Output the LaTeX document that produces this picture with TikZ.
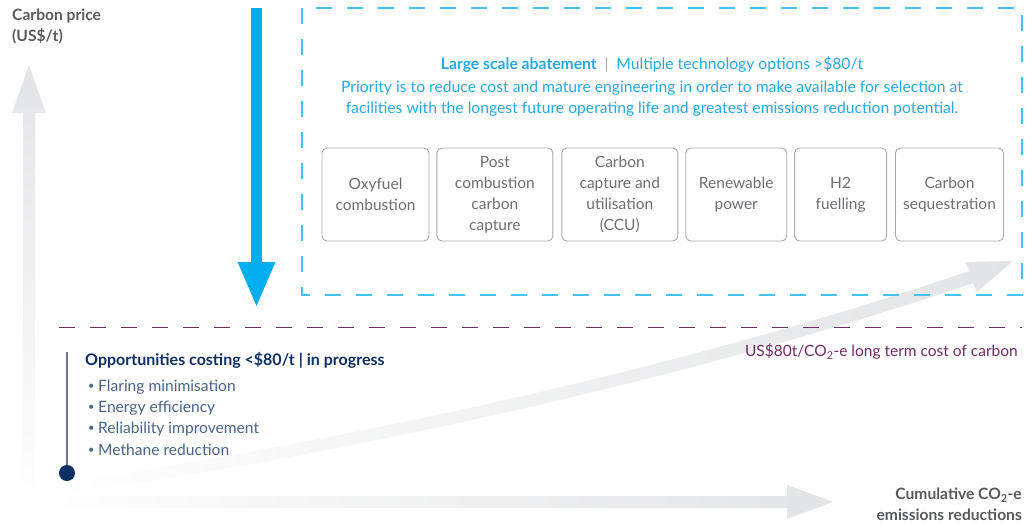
\documentclass[tikz,border=0pt]{standalone}
\usepackage{fontspec}
\setmainfont{Lato}
\usetikzlibrary{positioning,arrows.meta}
\definecolor{dropblue}{HTML}{00AEEF}
\definecolor{abtblue}{HTML}{29A9E1}
\definecolor{dashblue}{HTML}{45C3F0}
\definecolor{axisgrey}{HTML}{E3E4E5}
\definecolor{boxgrey}{HTML}{A7A9AC}
\definecolor{boxtext}{HTML}{6D6E71}
\definecolor{labelgrey}{HTML}{58595B}
\definecolor{navy}{HTML}{0E2F63}
\definecolor{slate}{HTML}{4B6387}
\definecolor{plum}{HTML}{6E2C66}
\newcommand{\smallbul}{\makebox[10pt][l]{\raisebox{0.12em}{\scalebox{0.7}{\textbullet}}}}

\begin{document}
\begin{tikzpicture}[x=1pt,y=-1pt]
		\tikzset{opt/.style={draw=boxgrey, line width=0.9pt, rounded corners=5pt, minimum height=93pt, inner sep=0pt, align=center, text=boxtext, font=\fontsize{15.5}{21}\selectfont},
			axlabel/.style={inner sep=0pt, text=labelgrey, font=\bfseries\fontsize{15.6}{21}\selectfont},
			bul/.style={anchor=west, inner sep=0pt, text=slate, font=\fontsize{15.6}{21}\selectfont}};

		\useasboundingbox (0,0) rectangle (1035,523);

		\shade[left color=white, right color=axisgrey] (23,496) -- (787,496) -- (787,485) -- (833,502) -- (787,519) -- (787,508) -- (23,508) -- cycle;
		\shade[bottom color=white, top color=axisgrey] (23,508) -- (23,113) -- (12,113) -- (29,65) -- (46,113) -- (35,113) -- (35,508) -- cycle;
		\shade[left color=white, right color=axisgrey] (39,486) .. controls (349,442) and (698,364) .. (969,271) -- (965,262) -- (1013,261) -- (977,292) -- (973,283) .. controls (702,376) and (351,454) .. (41,498) -- cycle;

		\draw[dashblue, line width=1.3pt, dash pattern=on 16pt off 15pt] (302,8) rectangle (1022,295);

		\coordinate (droptop) at (256.5,8);
		\coordinate (droptip) at (256.5,308);
		\draw[dropblue, line width=11.5pt, -{Triangle[length=46pt,width=34pt]}] (droptop) -- (droptip);

		\coordinate (limitl) at (59,327);
		\coordinate (limitr) at (1022,327);
		\draw[plum, line width=1pt, dash pattern=on 16pt off 15pt] (limitl) -- (limitr);

		\node[axlabel, anchor=west, align=left] (yaxis) at (12,26.5) {Carbon price\\(US\$/t)};
		\node[axlabel, anchor=east, align=right] (xaxis) at (1022,504.5) {Cumulative CO\textsubscript{2}-e\\emissions reductions};

		\node[inner sep=0pt, text=abtblue, font=\fontsize{15.7}{21}\selectfont] (abt) at (652,64.5) {\textbf{Large scale abatement}\enspace{\color{boxgrey}|}\enspace Multiple technology options >\$80/t};
		\node[inner sep=0pt, text=abtblue, align=center, font=\fontsize{15.7}{21}\selectfont] (prio) at (652,99) {Priority is to reduce cost and mature engineering in order to make available for selection at\\facilities with the longest future operating life and greatest emissions reduction potential.};

		\node[opt, minimum width=107pt] (oxy) at (375.5,194.5) {Oxyfuel\\combustion};
		\node[opt, minimum width=116pt, right=7pt of oxy] (post) {Post\\combustion\\carbon\\capture};
		\node[opt, minimum width=116pt, right=8pt of post] (ccu) {Carbon\\capture and\\utilisation\\(CCU)};
		\node[opt, minimum width=101pt, right=7pt of ccu] (renew) {Renewable\\power};
		\node[opt, minimum width=92pt, right=7pt of renew] (htwo) {H2\\fuelling};
		\node[opt, minimum width=108pt, right=8pt of htwo] (seq) {Carbon\\sequestration};

		\node[plum, anchor=east, inner sep=0pt, font=\fontsize{15.5}{21}\selectfont] (longterm) at (1018,352) {US\$80t/CO\textsubscript{2}-e long term cost of carbon};

		\node[anchor=west, inner sep=0pt, text=navy, font=\bfseries\fontsize{16}{21}\selectfont] (opp) at (85,360) {Opportunities costing <\$80/t | in progress};
		\node[bul] (flare) at (88,387) {\smallbul Flaring minimisation};
		\node[bul] (energy) at (88,408) {\smallbul Energy efficiency};
		\node[bul] (reliab) at (88,429) {\smallbul Reliability improvement};
		\node[bul] (methane) at (88,450) {\smallbul Methane reduction};

		\node[circle, fill=navy, minimum size=16pt, inner sep=0pt] (start) at (67,473) {};
		\coordinate (oppbar) at (67,352);
		\draw[slate!85, line width=1.5pt] (start) -- (oppbar);

	\end{tikzpicture}
\end{document}
